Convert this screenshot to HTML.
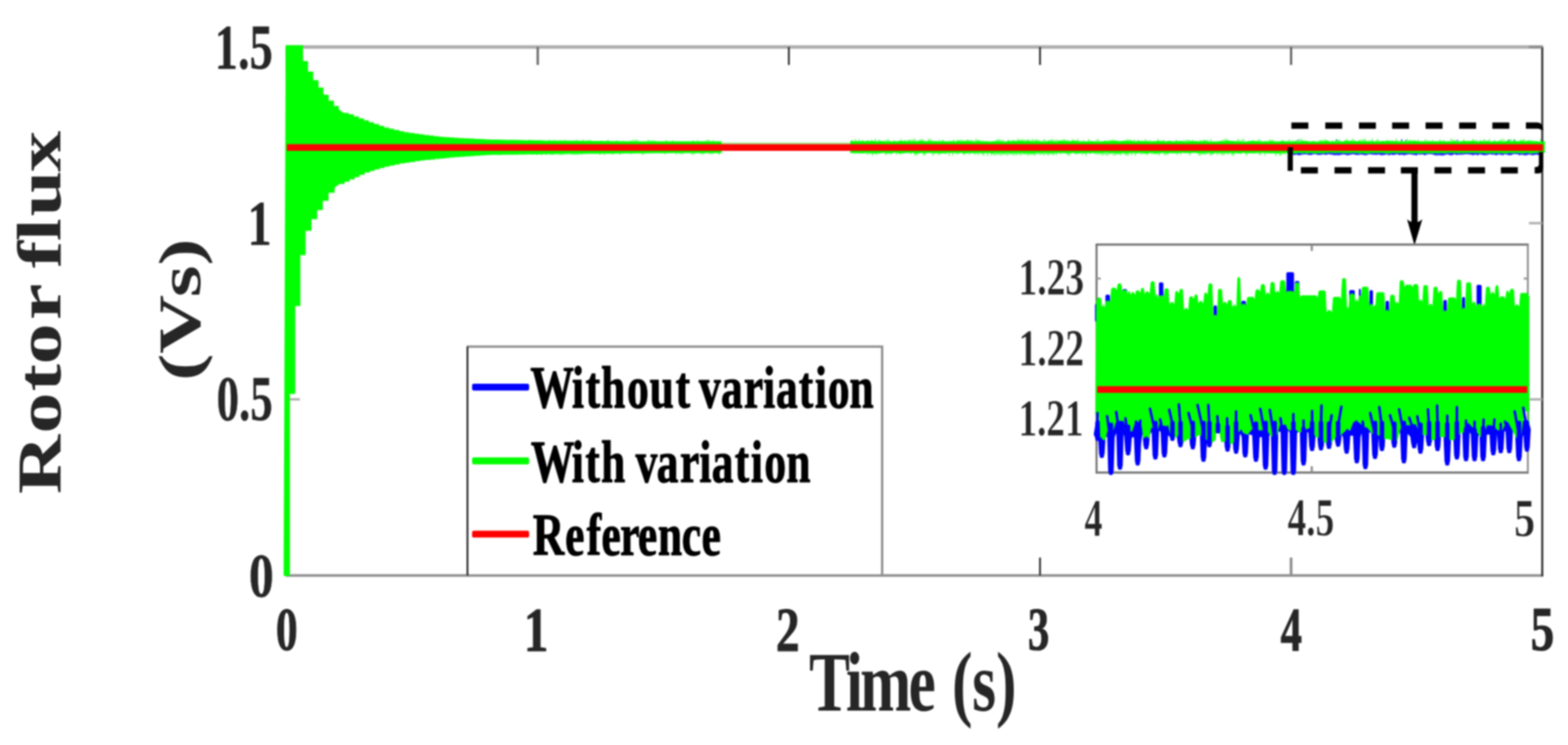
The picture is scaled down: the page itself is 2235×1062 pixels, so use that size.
<!DOCTYPE html>
<html lang="en">
<head>
<meta charset="utf-8">
<title>Rotor flux</title>
<style>
html,body{margin:0;padding:0;background:#fff;}
body{width:2235px;height:1062px;overflow:hidden;font-family:"Liberation Serif","DejaVu Serif",serif;}
svg{display:block;filter:blur(0.8px);}
</style>
</head>
<body>
<svg width="2235" height="1062" viewBox="0 0 2235 1062" role="img" aria-label="Rotor flux versus time" font-family="'Liberation Serif', 'DejaVu Serif', serif">
<rect width="2235" height="1062" fill="#fff"/>
<g id="main-axes" fill="none">
<line x1="407.2" y1="67.0" x2="2199.6" y2="67.0" stroke="#adadad" stroke-width="5.2"/>
<line x1="407.2" y1="820.4" x2="2199.6" y2="820.4" stroke="#909090" stroke-width="3.6"/>
<line x1="408.5" y1="67.0" x2="408.5" y2="820.4" stroke="#303030" stroke-width="2.9"/>
<line x1="2198.3" y1="67.0" x2="2198.3" y2="821.4" stroke="#303030" stroke-width="2.9"/>
<line x1="766.5" y1="67.0" x2="766.5" y2="92.6" stroke="#6e6e6e" stroke-width="3.4"/>
<line x1="1124.4" y1="67.0" x2="1124.4" y2="92.6" stroke="#333" stroke-width="2.7"/>
<line x1="1482.4" y1="67.0" x2="1482.4" y2="92.6" stroke="#333" stroke-width="2.7"/>
<line x1="1482.4" y1="820.4" x2="1482.4" y2="794.8" stroke="#333" stroke-width="2.7"/>
<line x1="1840.3" y1="67.0" x2="1840.3" y2="92.6" stroke="#5c5c5c" stroke-width="3.0"/>
<line x1="1840.3" y1="820.4" x2="1840.3" y2="794.8" stroke="#8c8c8c" stroke-width="3.8"/>
<line x1="408.5" y1="569.3" x2="427.5" y2="569.3" stroke="#b0b0b0" stroke-width="3.4"/>
<line x1="2198.3" y1="569.3" x2="2179.3" y2="569.3" stroke="#b0b0b0" stroke-width="3.4"/>
<line x1="408.5" y1="318.1" x2="427.5" y2="318.1" stroke="#b0b0b0" stroke-width="3.4"/>
<line x1="2198.3" y1="318.1" x2="2179.3" y2="318.1" stroke="#b0b0b0" stroke-width="3.4"/>
<line x1="2198.3" y1="67.0" x2="2179.3" y2="67.0" stroke="#8a8a8a" stroke-width="3.4"/>
</g>
<g id="main-data">
<polygon points="407.2,64.6 432.0,64.6 432.0,87.0 439.0,87.0 439.0,102.1 446.5,102.1 446.5,114.3 454.0,114.3 454.0,124.7 461.0,124.7 461.0,135.0 468.5,135.0 468.5,143.5 476.0,143.5 476.0,151.0 483.0,151.0 483.0,156.0 490.0,161.0 497.2,161.0 497.2,163.0 504.3,163.0 504.3,165.9 511.5,165.9 511.5,168.7 518.6,168.7 518.6,171.6 525.8,171.6 525.8,174.2 533.0,174.2 533.0,176.8 540.1,176.8 540.1,179.3 547.3,179.3 547.3,181.7 554.4,181.7 554.4,183.5 561.6,183.5 561.6,185.3 568.8,185.3 568.8,187.1 575.9,187.1 575.9,188.5 583.1,188.5 583.1,189.5 590.2,189.5 590.2,190.6 597.4,190.6 597.4,191.6 604.6,191.6 604.6,192.5 611.7,192.5 611.7,193.3 618.9,193.3 618.9,194.2 626.0,194.2 626.0,194.9 633.2,194.9 633.2,195.4 640.4,195.4 640.4,196.0 647.5,196.0 647.5,196.6 654.7,196.6 654.7,196.9 661.8,196.9 661.8,197.3 669.0,197.3 669.0,197.6 676.2,197.6 676.2,198.0 683.3,198.0 683.3,198.3 690.5,198.3 690.5,198.7 697.6,198.7 697.6,199.0 704.8,199.0 704.8,199.1 712.0,199.1 712.0,199.3 719.1,199.3 719.1,199.4 726.3,199.4 726.3,199.5 733.4,199.5 733.4,199.6 740.6,199.6 740.6,199.8 747.8,199.8 747.8,199.9 754.9,199.9 754.9,200.0 762.1,200.0 762.1,200.1 769.2,200.1 769.2,200.3 776.4,200.3 776.4,200.4 783.6,200.4 783.6,200.4 790.7,200.4 790.7,200.5 797.9,200.5 797.9,200.5 800.0,200.5 900.0,201.6 1028.7,201.6 1028.7,218.3 959.0,218.3 800.0,219.6 799.0,219.6 799.0,219.6 791.9,219.6 791.9,219.7 784.7,219.7 784.7,219.7 777.6,219.7 777.6,219.8 770.4,219.8 770.4,219.9 763.2,219.9 763.2,220.0 756.1,220.0 756.1,220.1 748.9,220.1 748.9,220.2 741.8,220.2 741.8,220.3 734.6,220.3 734.6,220.4 727.4,220.4 727.4,220.5 720.3,220.5 720.3,220.6 713.1,220.6 713.1,220.7 706.0,220.7 706.0,220.8 698.8,220.8 698.8,221.1 691.6,221.1 691.6,221.6 684.5,221.6 684.5,222.0 677.3,222.0 677.3,222.5 670.2,222.5 670.2,222.9 663.0,222.9 663.0,223.4 655.8,223.4 655.8,223.9 648.7,223.9 648.7,224.5 641.5,224.5 641.5,225.2 634.4,225.2 634.4,225.9 627.2,225.9 627.2,226.6 620.0,226.6 620.0,227.4 612.9,227.4 612.9,228.1 605.7,228.1 605.7,228.8 598.6,228.8 598.6,229.8 591.4,229.8 591.4,230.9 584.2,230.9 584.2,231.9 577.1,231.9 577.1,233.1 569.9,233.1 569.9,234.5 562.8,234.5 562.8,236.0 555.6,236.0 555.6,237.4 548.4,237.4 548.4,239.4 541.3,239.4 541.3,241.5 534.1,241.5 534.1,243.7 527.0,243.7 527.0,246.1 519.8,246.1 519.8,249.3 512.6,249.3 512.6,252.5 505.5,252.5 505.5,255.7 498.3,255.7 498.3,259.0 491.2,259.0 491.2,262.3 484.0,262.3 477.0,267.5 477.0,274.7 468.4,274.7 468.4,286.3 460.2,286.3 460.2,299.5 452.2,299.5 452.2,312.6 444.0,312.6 444.0,329.1 435.6,329.1 435.6,363.7 428.2,363.7 428.2,436.3 420.9,436.3 420.9,561.6 413.2,561.6 413.2,820.9 404.3,820.9" fill="#00ff00"/>
<rect x="1028.7" y="203.2" width="183.5" height="3" fill="#7fdf5f" opacity="0.7"/>
<polygon points="1842,214.0 1842,219.8 1845,221.3 1848,220.2 1851,221.5 1854,221.0 1857,220.3 1860,220.0 1863,220.2 1866,221.0 1869,221.1 1872,219.9 1875,219.8 1878,220.7 1881,220.9 1884,220.5 1887,220.1 1890,220.9 1893,219.7 1896,220.3 1899,220.6 1902,221.6 1905,221.0 1908,221.5 1911,220.7 1914,220.2 1917,220.2 1920,221.6 1923,221.1 1926,220.3 1929,219.7 1932,220.7 1935,221.0 1938,220.5 1941,220.2 1944,221.0 1947,221.6 1950,220.2 1953,219.8 1956,220.4 1959,220.5 1962,221.1 1965,220.1 1968,221.3 1971,221.2 1974,220.7 1977,220.1 1980,221.6 1983,220.3 1986,221.3 1989,220.2 1992,220.1 1995,221.2 1998,220.3 2001,221.6 2004,220.7 2007,220.1 2010,220.1 2013,220.5 2016,221.0 2019,221.6 2022,220.0 2025,220.5 2028,220.1 2031,221.6 2034,220.0 2037,219.8 2040,219.8 2043,220.5 2046,221.5 2049,221.5 2052,221.2 2055,221.7 2058,221.6 2061,220.4 2064,220.1 2067,221.6 2070,221.2 2073,219.8 2076,221.0 2079,220.5 2082,220.4 2085,220.4 2088,220.0 2091,219.7 2094,220.3 2097,220.4 2100,221.6 2103,219.9 2106,221.6 2109,220.1 2112,220.4 2115,221.3 2118,221.3 2121,220.6 2124,219.8 2127,220.6 2130,220.4 2133,221.5 2136,220.1 2139,220.4 2142,221.5 2145,219.8 2148,220.5 2151,221.3 2154,221.2 2157,219.8 2160,219.8 2163,219.8 2166,221.5 2169,220.2 2172,221.2 2175,221.5 2178,220.4 2181,220.2 2184,221.6 2187,220.9 2190,220.2 2193,221.1 2196,220.3 2200,214.0" fill="#0000ff" opacity="0.85"/>
<path d="M1214.0 201.5V199.6M1219.2 201.5V198.4M1224.4 201.5V198.4M1229.6 201.5V199.7M1236.1 218V220.4M1237.4 201.5V199.7M1238.7 218V220.1M1241.3 218V219.8M1242.6 201.5V199.1M1243.9 218V222.1M1247.8 201.5V198.0M1249.1 218V220.9M1253.0 201.5V198.8M1260.8 201.5V199.8M1262.1 218V221.1M1263.4 201.5V199.6M1264.7 218V220.2M1266.0 201.5V198.2M1269.9 218V220.6M1273.8 201.5V199.7M1277.7 218V220.8M1282.9 218V220.4M1284.2 201.5V198.3M1289.4 201.5V199.9M1292.0 201.5V199.7M1294.6 201.5V199.2M1297.2 201.5V198.7M1298.5 218V220.1M1299.8 201.5V199.2M1302.4 201.5V197.8M1303.7 218V221.4M1305.0 201.5V198.5M1306.3 218V221.7M1308.9 218V219.9M1310.2 201.5V199.1M1312.8 201.5V198.2M1315.4 201.5V198.5M1316.7 218V222.1M1319.3 218V220.7M1323.2 201.5V198.3M1325.8 201.5V197.8M1328.4 201.5V199.8M1329.7 218V221.9M1332.3 218V219.6M1337.5 218V221.2M1338.8 201.5V199.0M1340.1 218V220.3M1344.0 201.5V199.0M1347.9 218V219.9M1353.1 218V222.0M1354.4 201.5V200.0M1358.3 218V221.6M1359.6 201.5V198.8M1363.5 218V220.2M1364.8 201.5V199.0M1366.1 218V219.9M1367.4 201.5V199.5M1370.0 201.5V199.1M1372.6 201.5V199.8M1373.9 218V221.2M1377.8 201.5V198.8M1380.4 201.5V199.4M1381.7 218V220.7M1383.0 201.5V199.3M1385.6 201.5V199.6M1389.5 218V220.8M1390.8 201.5V198.1M1392.1 218V219.8M1393.4 201.5V199.0M1394.7 218V221.3M1396.0 201.5V199.6M1399.9 218V220.9M1401.2 201.5V200.1M1402.5 218V221.8M1407.7 218V222.2M1412.9 218V221.6M1415.5 218V220.5M1418.1 218V221.9M1419.4 201.5V199.8M1420.7 218V220.9M1422.0 201.5V198.4M1423.3 218V220.4M1424.6 201.5V198.2M1425.9 218V222.0M1427.2 201.5V199.9M1428.5 218V221.6M1429.8 201.5V199.1M1431.1 218V220.5M1433.7 218V221.1M1436.3 218V222.2M1437.6 201.5V198.7M1438.9 218V220.3M1441.5 218V220.5M1442.8 201.5V198.9M1444.1 218V221.5M1445.4 201.5V199.8M1446.7 218V221.3M1449.3 218V221.3M1450.6 201.5V197.8M1451.9 218V220.0M1453.2 201.5V198.8M1454.5 218V221.9M1455.8 201.5V198.3M1457.1 218V219.7M1458.4 201.5V198.7M1459.7 218V220.5M1461.0 201.5V199.2M1462.3 218V220.1M1463.6 201.5V198.9M1464.9 218V222.0M1466.2 201.5V198.2M1467.5 218V221.3M1470.1 218V220.6M1471.4 201.5V197.8M1472.7 218V221.1M1474.0 201.5V199.3M1475.3 218V222.0M1476.6 201.5V198.4M1479.2 201.5V199.1M1480.5 218V220.2M1481.8 201.5V199.7M1483.1 218V221.0M1485.7 218V220.1M1487.0 201.5V199.0M1488.3 218V221.7M1489.6 201.5V198.5M1490.9 218V219.7M1493.5 218V221.5M1494.8 201.5V199.8M1496.1 218V220.8M1497.4 201.5V198.9M1498.7 218V219.9M1500.0 201.5V197.9M1501.3 218V221.5M1502.6 201.5V199.8M1503.9 218V220.3M1505.2 201.5V198.8M1506.5 218V221.0M1507.8 201.5V199.3M1510.4 201.5V199.9M1511.7 218V220.3M1513.0 201.5V199.6M1515.6 201.5V198.6M1518.2 201.5V198.4M1520.8 201.5V199.5M1522.1 218V222.1M1523.4 201.5V199.8M1524.7 218V221.8M1528.6 201.5V198.3M1531.2 201.5V200.0M1532.5 218V219.7M1533.8 201.5V200.0M1535.1 218V220.0M1536.4 201.5V197.9M1542.9 218V221.1M1544.2 201.5V199.8M1548.1 218V221.9M1552.0 201.5V198.3M1553.3 218V219.7M1561.1 218V219.9M1562.4 201.5V199.6M1563.7 218V220.4M1565.0 201.5V197.9M1566.3 218V220.3M1568.9 218V220.4M1571.5 218V221.8M1574.1 218V220.7M1575.4 201.5V199.7M1576.7 218V221.4M1579.3 218V221.8M1580.6 201.5V199.8M1581.9 218V219.6M1583.2 201.5V199.6M1585.8 201.5V199.0M1587.1 218V221.7M1588.4 201.5V199.0M1589.7 218V221.8M1591.0 201.5V200.1M1592.3 218V220.2M1594.9 218V219.9M1597.5 218V221.6M1602.7 218V220.6M1604.0 201.5V199.9M1605.3 218V221.9M1606.6 201.5V198.3M1607.9 218V221.9M1609.2 201.5V198.7M1611.8 201.5V198.9M1613.1 218V221.6M1617.0 201.5V198.6M1618.3 218V221.8M1622.2 201.5V198.9M1626.1 218V220.8M1628.7 218V220.1M1632.6 201.5V198.2M1633.9 218V220.4M1636.5 218V220.5M1637.8 201.5V200.1M1640.4 201.5V200.1M1641.7 218V220.6M1646.9 218V220.1M1649.5 218V220.1M1650.8 201.5V197.9M1652.1 218V221.7M1658.6 201.5V199.2M1659.9 218V221.5M1662.5 218V221.1M1665.1 218V220.2M1676.8 201.5V199.3M1678.1 218V220.7M1683.3 218V220.7M1687.2 201.5V199.4M1689.8 201.5V199.4M1692.4 201.5V199.0M1695.0 201.5V199.1M1696.3 218V221.6M1700.2 201.5V199.2M1709.3 218V222.1M1710.6 201.5V199.4M1711.9 218V221.6M1713.2 201.5V200.2M1714.5 218V219.7M1715.8 201.5V198.8M1717.1 218V220.7M1718.4 201.5V199.5M1719.7 218V220.3M1721.0 201.5V199.6M1724.9 218V221.7M1726.2 201.5V198.3M1727.5 218V221.6M1735.3 218V221.3M1740.5 218V221.0M1741.8 201.5V199.8M1743.1 218V221.8M1744.4 201.5V198.7M1745.7 218V220.7M1747.0 201.5V197.8M1749.6 201.5V198.4M1750.9 218V220.8M1756.1 218V222.0M1758.7 218V221.8M1762.6 201.5V199.8M1765.2 201.5V197.8M1769.1 218V219.9M1770.4 201.5V198.4M1773.0 201.5V198.2M1776.9 218V221.9M1786.0 201.5V199.5M1793.8 201.5V198.4M1795.1 218V220.9M1796.4 201.5V198.9M1797.7 218V220.9M1802.9 218V221.8M1809.4 201.5V198.8M1812.0 201.5V199.3M1814.6 201.5V199.3M1818.5 218V222.2M1823.7 218V221.5M1826.3 218V221.8M1827.6 201.5V198.9M1831.5 218V220.7M1836.7 218V221.8M1838.0 201.5V198.5M1839.3 218V222.1M1842.0 201.5V199.3M1847.2 201.5V199.5M1852.4 201.5V197.9M1855.0 201.5V197.8M1857.6 201.5V200.0M1881.0 201.5V199.4M1883.6 201.5V199.4M1886.2 201.5V199.6M1888.8 201.5V198.2M1891.4 201.5V199.7M1899.2 201.5V199.8M1904.4 201.5V198.4M1907.0 201.5V198.8M1909.6 201.5V198.8M1917.4 201.5V199.2M1920.0 201.5V198.1M1925.2 201.5V200.0M1927.8 201.5V197.8M1930.4 201.5V199.2M1938.2 201.5V198.8M1940.8 201.5V199.3M1943.4 201.5V198.2M1946.0 201.5V197.8M1951.2 201.5V200.1M1953.8 201.5V199.9M1956.4 201.5V197.8M1961.6 201.5V199.6M1964.2 201.5V197.9M1977.2 201.5V199.3M1982.4 201.5V200.0M1985.0 201.5V200.1M1990.2 201.5V197.8M1998.0 201.5V198.5M2003.2 201.5V199.9M2005.8 201.5V197.9M2008.4 201.5V199.2M2011.0 201.5V199.4M2013.6 201.5V199.7M2016.2 201.5V199.3M2021.4 201.5V198.7M2031.8 201.5V198.5M2034.4 201.5V200.1M2042.2 201.5V199.3M2052.6 201.5V198.8M2057.8 201.5V199.4M2068.2 201.5V197.8M2070.8 201.5V198.8M2073.4 201.5V199.8M2078.6 201.5V199.8M2086.4 201.5V198.5M2099.4 201.5V198.0M2102.0 201.5V199.7M2104.6 201.5V199.6M2109.8 201.5V199.3M2115.0 201.5V198.3M2117.6 201.5V199.6M2122.8 201.5V198.0M2130.6 201.5V199.2M2138.4 201.5V198.9M2141.0 201.5V198.3M2143.6 201.5V198.2M2148.8 201.5V199.2M2151.4 201.5V199.0M2154.0 201.5V197.9M2159.2 201.5V198.1M2167.0 201.5V199.2M2169.6 201.5V199.0M2172.2 201.5V197.9M2180.0 201.5V199.2M2182.6 201.5V199.7M2185.2 201.5V200.1M2195.6 201.5V197.9M700.0 202V199.1M701.5 218V219.5M711.1 218V220.6M714.3 218V221.3M716.0 202V199.8M725.6 202V200.5M728.8 202V198.9M730.3 218V220.1M736.7 218V221.0M743.1 218V219.7M749.5 218V220.6M752.7 218V220.0M754.4 202V199.0M757.6 202V199.2M759.1 218V220.8M760.8 202V200.1M762.3 218V219.5M765.5 218V221.3M770.4 202V199.6M771.9 218V221.3M778.3 218V221.0M783.2 202V199.2M784.7 218V220.8M787.9 218V221.1M789.6 202V199.5M791.1 218V219.9M794.3 218V219.7M797.5 218V221.2M799.2 202V200.6M800.7 218V221.2M803.9 218V220.4M805.6 202V199.3M807.1 218V220.1M813.5 218V220.0M816.7 218V220.9M818.4 202V200.6M819.9 218V221.0M821.6 202V199.1M823.1 218V221.1M826.3 218V220.3M829.5 218V220.5M831.2 202V199.1M835.9 218V219.6M837.6 202V199.9M840.8 202V199.2M848.7 218V219.5M855.1 218V221.0M856.8 202V200.3M861.5 218V221.2M866.4 202V199.1M871.1 218V220.1M874.3 218V220.4M879.2 202V200.1M883.9 218V220.8M888.8 202V200.4M898.4 202V200.5M899.9 218V219.8M901.6 202V199.3M904.8 202V199.0M908.0 202V198.8M915.9 218V221.1M919.1 218V219.6M924.0 202V199.0M927.2 202V199.9M930.4 202V199.8M933.6 202V200.3M947.9 218V219.9M949.6 202V199.6M959.2 202V199.7M963.9 218V220.2M970.3 218V220.3M973.5 218V219.7M986.3 218V220.7M988.0 202V200.0M989.5 218V220.5M994.4 202V199.7M999.1 218V220.0M1002.3 218V220.6M1007.2 202V199.6M1010.4 202V199.0M1011.9 218V220.0M1015.1 218V219.9M1016.8 202V199.8M1024.7 218V220.8" fill="none" stroke="#00ff00" stroke-width="1.5" opacity="0.75"/>
<path d="M1850 201V199.2M1905 201V199M1998 201V198.6M2004 201V199.4M2077 201V199.3M2151 201V199M2158 201V199.5" fill="none" stroke="#0000ff" stroke-width="1.6" opacity="0.7"/>
<polygon points="1212,201.2 1215,201.0 1218,201.5 1221,200.9 1224,201.4 1227,201.2 1230,200.9 1233,201.4 1236,200.8 1239,201.3 1242,200.9 1245,200.9 1248,201.3 1251,201.7 1254,200.9 1257,201.0 1260,201.5 1263,201.8 1266,201.4 1269,201.2 1272,201.9 1275,200.9 1278,201.7 1281,201.1 1284,201.0 1287,200.9 1290,201.1 1293,201.7 1296,201.0 1299,201.4 1302,201.5 1305,201.2 1308,201.4 1311,200.9 1314,200.9 1317,201.0 1320,201.5 1323,201.3 1326,201.1 1329,201.4 1332,201.3 1335,201.1 1338,201.7 1341,201.6 1344,201.1 1347,201.4 1350,201.4 1353,201.8 1356,201.6 1359,201.1 1362,201.9 1365,200.9 1368,201.3 1371,201.6 1374,201.0 1377,201.3 1380,200.8 1383,201.5 1386,201.6 1389,201.4 1392,201.8 1395,201.1 1398,201.6 1401,201.5 1404,201.4 1407,201.3 1410,201.7 1413,201.8 1416,201.3 1419,201.5 1422,200.9 1425,201.6 1428,201.5 1431,201.9 1434,201.7 1437,201.1 1440,201.2 1443,201.5 1446,200.8 1449,201.3 1452,201.0 1455,200.9 1458,200.9 1461,201.6 1464,200.9 1467,201.1 1470,201.2 1473,201.8 1476,200.9 1479,201.3 1482,201.4 1485,201.8 1488,201.7 1491,201.8 1494,201.1 1497,201.3 1500,201.2 1503,201.8 1506,201.9 1509,201.0 1512,201.0 1515,201.1 1518,201.1 1521,201.3 1524,201.4 1527,201.1 1530,200.8 1533,201.3 1536,201.2 1539,201.4 1542,201.8 1545,201.6 1548,201.4 1551,201.5 1554,201.5 1557,200.9 1560,201.8 1563,201.7 1566,201.8 1569,201.7 1572,201.2 1575,201.2 1578,200.9 1581,201.5 1584,200.9 1587,200.9 1590,201.0 1593,201.0 1596,201.2 1599,200.9 1602,200.8 1605,201.0 1608,200.9 1611,201.2 1614,200.8 1617,201.8 1620,201.5 1623,201.0 1626,201.1 1629,201.2 1632,201.2 1635,200.9 1638,201.7 1641,201.9 1644,201.3 1647,201.3 1650,200.9 1653,200.9 1656,201.2 1659,201.1 1662,201.7 1665,201.0 1668,200.8 1671,201.8 1674,201.4 1677,201.0 1680,201.4 1683,200.8 1686,201.4 1689,201.9 1692,201.7 1695,201.6 1698,201.1 1701,201.2 1704,201.0 1707,201.6 1710,201.4 1713,201.7 1716,201.2 1719,201.0 1722,201.7 1725,201.9 1728,201.7 1731,201.7 1734,201.7 1737,201.6 1740,201.0 1743,201.4 1746,201.2 1749,200.8 1752,200.8 1755,201.1 1758,201.1 1761,201.6 1764,201.9 1767,201.3 1770,201.8 1773,201.9 1776,201.9 1779,201.2 1782,201.0 1785,201.0 1788,201.0 1791,201.0 1794,201.5 1797,201.8 1800,201.7 1803,201.3 1806,201.5 1809,201.7 1812,200.9 1815,201.5 1818,201.8 1821,201.7 1824,201.6 1827,201.3 1830,201.0 1833,201.7 1836,201.2 1839,201.7 1842,201.9 1845,201.2 1848,201.2 1851,201.8 1854,201.6 1857,201.0 1860,200.9 1863,201.0 1866,201.8 1869,201.7 1872,201.0 1875,201.7 1878,201.9 1881,201.5 1884,201.2 1887,201.4 1890,200.9 1893,200.8 1896,201.9 1899,201.5 1902,201.4 1905,201.8 1908,201.3 1911,201.8 1914,201.7 1917,201.0 1920,201.1 1923,201.1 1926,201.1 1929,201.4 1932,201.1 1935,201.3 1938,200.9 1941,201.8 1944,201.2 1947,201.3 1950,201.4 1953,201.8 1956,201.3 1959,201.8 1962,201.4 1965,201.4 1968,201.4 1971,200.8 1974,201.3 1977,201.0 1980,200.8 1983,201.7 1986,201.0 1989,201.3 1992,201.6 1995,201.4 1998,201.2 2001,201.4 2004,201.4 2007,201.7 2010,200.9 2013,201.4 2016,201.1 2019,201.1 2022,201.6 2025,201.4 2028,201.4 2031,201.6 2034,201.8 2037,201.3 2040,201.5 2043,201.4 2046,201.4 2049,201.6 2052,201.3 2055,201.4 2058,201.3 2061,201.8 2064,201.6 2067,201.8 2070,201.8 2073,201.1 2076,201.4 2079,201.8 2082,201.7 2085,201.0 2088,200.9 2091,201.3 2094,200.9 2097,201.1 2100,200.9 2103,201.5 2106,201.7 2109,201.8 2112,201.0 2115,201.6 2118,201.5 2121,201.0 2124,201.8 2127,201.9 2130,201.0 2133,201.8 2136,201.2 2139,201.3 2142,201.9 2145,201.7 2148,201.0 2151,201.3 2154,201.4 2157,201.2 2160,201.0 2163,201.2 2166,201.6 2169,200.8 2172,201.4 2175,201.3 2178,200.8 2181,201.2 2184,201.5 2187,201.4 2190,200.9 2193,201.9 2196,201.7 2199,201.9 2202,200.9 2202,201.0 2202,218.8 2202,218.1 2199,217.8 2196,218.7 2193,218.1 2190,217.9 2187,218.3 2184,218.8 2181,218.7 2178,218.1 2175,218.0 2172,218.8 2169,218.4 2166,218.6 2163,217.9 2160,217.9 2157,218.6 2154,218.3 2151,217.9 2148,218.8 2145,218.5 2142,218.7 2139,217.9 2136,218.7 2133,217.9 2130,218.7 2127,218.3 2124,218.2 2121,218.4 2118,218.8 2115,218.1 2112,217.9 2109,218.4 2106,218.1 2103,217.9 2100,218.0 2097,217.9 2094,218.0 2091,218.1 2088,218.1 2085,218.6 2082,218.1 2079,218.4 2076,218.0 2073,218.2 2070,217.8 2067,218.1 2064,217.8 2061,218.6 2058,218.4 2055,218.0 2052,218.3 2049,218.8 2046,217.9 2043,218.7 2040,218.3 2037,218.3 2034,218.7 2031,218.2 2028,218.4 2025,218.6 2022,218.9 2019,218.2 2016,218.7 2013,218.6 2010,218.5 2007,218.2 2004,218.2 2001,217.9 1998,217.9 1995,217.9 1992,218.6 1989,218.1 1986,218.0 1983,217.9 1980,218.7 1977,218.8 1974,218.5 1971,218.1 1968,218.1 1965,218.1 1962,218.3 1959,218.0 1956,218.3 1953,218.1 1950,218.9 1947,218.9 1944,218.4 1941,218.1 1938,218.9 1935,218.1 1932,218.2 1929,217.8 1926,218.2 1923,218.3 1920,218.4 1917,218.0 1914,218.4 1911,217.8 1908,218.1 1905,217.9 1902,218.2 1899,217.8 1896,217.8 1893,218.1 1890,218.1 1887,218.4 1884,218.4 1881,218.6 1878,218.5 1875,218.6 1872,218.8 1869,218.2 1866,218.2 1863,218.9 1860,218.0 1857,218.6 1854,218.5 1851,217.8 1848,218.7 1845,218.8 1842,218.5 1839,218.6 1836,218.7 1833,218.0 1830,218.4 1827,218.4 1824,218.7 1821,218.7 1818,218.7 1815,218.4 1812,218.8 1809,218.6 1806,218.6 1803,218.1 1800,217.8 1797,217.9 1794,218.2 1791,217.9 1788,218.7 1785,218.4 1782,218.5 1779,218.5 1776,218.5 1773,218.3 1770,217.8 1767,218.7 1764,218.6 1761,218.4 1758,218.4 1755,218.5 1752,217.9 1749,218.6 1746,218.1 1743,217.9 1740,218.1 1737,218.6 1734,218.0 1731,218.6 1728,218.9 1725,218.3 1722,218.2 1719,218.3 1716,218.6 1713,218.6 1710,218.5 1707,218.5 1704,217.9 1701,218.0 1698,218.1 1695,218.6 1692,218.1 1689,218.4 1686,217.8 1683,217.9 1680,218.1 1677,218.5 1674,218.6 1671,218.5 1668,218.1 1665,218.4 1662,218.3 1659,218.3 1656,217.9 1653,218.8 1650,218.0 1647,218.9 1644,218.8 1641,217.8 1638,218.3 1635,218.7 1632,218.9 1629,218.3 1626,218.1 1623,218.0 1620,218.8 1617,218.0 1614,218.4 1611,218.0 1608,218.4 1605,218.8 1602,217.9 1599,218.7 1596,218.4 1593,218.8 1590,218.6 1587,218.1 1584,218.8 1581,218.3 1578,217.8 1575,217.8 1572,218.3 1569,218.3 1566,218.1 1563,218.0 1560,218.2 1557,218.1 1554,218.7 1551,217.8 1548,218.6 1545,218.7 1542,217.9 1539,218.8 1536,218.6 1533,218.8 1530,218.1 1527,218.2 1524,218.2 1521,218.9 1518,218.4 1515,218.2 1512,218.3 1509,218.1 1506,217.9 1503,217.9 1500,218.7 1497,218.1 1494,218.8 1491,218.1 1488,218.1 1485,218.4 1482,218.0 1479,218.2 1476,218.9 1473,218.8 1470,218.7 1467,218.5 1464,218.8 1461,218.8 1458,218.4 1455,218.6 1452,217.9 1449,218.6 1446,218.3 1443,218.6 1440,218.5 1437,218.1 1434,217.9 1431,218.8 1428,217.9 1425,218.3 1422,218.2 1419,218.1 1416,218.6 1413,218.9 1410,218.1 1407,218.5 1404,218.1 1401,218.4 1398,218.2 1395,218.0 1392,218.0 1389,218.0 1386,218.8 1383,218.3 1380,218.0 1377,218.8 1374,218.9 1371,218.3 1368,218.0 1365,218.0 1362,217.9 1359,218.2 1356,217.9 1353,218.1 1350,218.1 1347,218.4 1344,218.8 1341,218.6 1338,218.3 1335,218.3 1332,218.4 1329,218.2 1326,218.2 1323,217.9 1320,218.1 1317,218.9 1314,217.9 1311,218.4 1308,218.5 1305,218.7 1302,218.0 1299,218.1 1296,218.1 1293,218.2 1290,218.3 1287,218.8 1284,218.7 1281,218.8 1278,217.8 1275,217.8 1272,218.6 1269,218.8 1266,218.3 1263,218.4 1260,217.8 1257,218.2 1254,218.8 1251,218.7 1248,218.7 1245,218.9 1242,218.1 1239,217.9 1236,218.0 1233,218.4 1230,218.6 1227,218.8 1224,218.6 1221,218.5 1218,218.6 1215,218.3 1212,218.4" fill="#00ff00"/>
<line x1="408.8" y1="210.2" x2="2199.5" y2="210.2" stroke="#ff0000" stroke-width="9.6"/>
</g>
<g id="zoom-box" fill="#000">
<rect x="1840.7" y="174.6" width="24.2" height="9.0"/>
<rect x="1889.0" y="174.6" width="24.2" height="9.0"/>
<rect x="1937.0" y="174.6" width="24.2" height="9.0"/>
<rect x="1984.3" y="174.6" width="24.2" height="9.0"/>
<rect x="2032.0" y="174.6" width="24.2" height="9.0"/>
<rect x="2079.8" y="174.6" width="24.2" height="9.0"/>
<rect x="2127.2" y="174.6" width="24.2" height="9.0"/>
<path d="M2175 174.6 H2191 Q2199.5 174.6 2199.5 186 L2193 183.6 H2175 Z"/>
<rect x="1854.3" y="238.3" width="24.2" height="9.0"/>
<rect x="1902.2" y="238.3" width="24.2" height="9.0"/>
<rect x="1950.0" y="238.3" width="24.2" height="9.0"/>
<rect x="1996.8" y="238.3" width="24.2" height="9.0"/>
<rect x="2044.7" y="238.3" width="24.2" height="9.0"/>
<rect x="2092.5" y="238.3" width="24.2" height="9.0"/>
<rect x="2139.3" y="238.3" width="24.2" height="9.0"/>
<rect x="1835.4" y="210" width="7.4" height="33.6"/>
<path d="M2187.5 247.3 H2193 Q2199.5 247.3 2199.5 238 V216.5 H2193.5 V234 Q2193.5 238.3 2187.5 238.3 Z"/>
<rect x="2011.8" y="243" width="8.8" height="80"/>
<path d="M2016.2 349.8 L2005.6 312.5 Q2016.2 322 2027.4 312.5 Z"/>
</g>
<g id="legend">
<rect x="666.2" y="494.2" width="591.4" height="324.0" fill="#fff"/>
<line x1="665" y1="494.2" x2="1259" y2="494.2" stroke="#8c8c8c" stroke-width="3.2"/>
<line x1="666.3" y1="494.2" x2="666.3" y2="820.4" stroke="#2c2c2c" stroke-width="2.7"/>
<line x1="1257.4" y1="494.2" x2="1257.4" y2="820.4" stroke="#8c8c8c" stroke-width="3.2"/>
<rect x="672.9" y="546.9" width="81.3" height="9.8" rx="2.6" fill="#0000ff"/>
<rect x="672.9" y="652.1" width="81.3" height="9.8" rx="2.6" fill="#00ff00"/>
<rect x="672.9" y="756.5" width="81.3" height="9.8" rx="2.6" fill="#ff0000"/>
<text transform="translate(0,581.10) scale(0.7380,1)" x="1024.5 1104.8 1131.1 1161.0 1211.2 1254.8 1304.8 1346.8 1350.1 1392.6 1436.7 1473.9 1498.6 1542.6 1573.9 1598.9 1640.5" y="0" font-size="84.00" font-weight="bold" fill="#000" stroke="#000" stroke-width="1.4" stroke-linejoin="round">Without variation</text>
<text transform="translate(0,686.70) scale(0.7380,1)" x="1025.3 1104.4 1130.6 1161.0 1203.0 1227.5 1268.3 1313.4 1350.7 1374.8 1419.0 1450.2 1476.3 1518.8" y="0" font-size="84.00" font-weight="bold" fill="#000" stroke="#000" stroke-width="1.4" stroke-linejoin="round">With variation</text>
<text transform="translate(0,791.20) scale(0.7380,1)" x="1029.0 1091.5 1133.0 1161.7 1197.9 1231.9 1270.7 1316.7 1355.0" y="0" font-size="84.00" font-weight="bold" fill="#000" stroke="#000" stroke-width="1.4" stroke-linejoin="round">Reference</text>
</g>
<g id="inset">
<rect x="1563.0" y="348.7" width="614.8000000000002" height="324.90000000000003" fill="#fff"/>
<line x1="1561.7" y1="348.7" x2="2179.1000000000004" y2="348.7" stroke="#7a7a7a" stroke-width="3.2"/>
<line x1="1561.7" y1="673.6" x2="2179.1000000000004" y2="673.6" stroke="#7a7a7a" stroke-width="3.2"/>
<line x1="1563.0" y1="348.7" x2="1563.0" y2="673.6" stroke="#666" stroke-width="2.6"/>
<line x1="2177.8" y1="348.7" x2="2177.8" y2="673.6" stroke="#8a8a8a" stroke-width="2.6"/>
<line x1="1869.8" y1="348.7" x2="1869.8" y2="357.7" stroke="#8a8a8a" stroke-width="3"/>
<line x1="1869.8" y1="673.6" x2="1869.8" y2="664.6" stroke="#8a8a8a" stroke-width="3"/>
<line x1="1563.0" y1="397.1" x2="1569.0" y2="397.1" stroke="#9a9a9a" stroke-width="3"/>
<line x1="2177.8" y1="397.1" x2="2171.8" y2="397.1" stroke="#9a9a9a" stroke-width="3"/>
<rect x="1575.7" y="420.0" width="6.4" height="22.8" rx="2.2" fill="#0000ff"/>
<rect x="1600.1" y="412.1" width="6.4" height="9.4" rx="2.2" fill="#0000ff"/>
<rect x="1651.9" y="402.5" width="6.4" height="28.9" rx="2.2" fill="#0000ff"/>
<rect x="1729.7" y="435.2" width="4.9" height="21.3" rx="2.2" fill="#0000ff"/>
<rect x="1769.4" y="428.8" width="6.4" height="13.9" rx="2.2" fill="#0000ff"/>
<rect x="1833.5" y="388.0" width="11.0" height="47.2" rx="2.2" fill="#0000ff"/>
<rect x="1845.7" y="400.5" width="6.4" height="10.3" rx="2.2" fill="#0000ff"/>
<rect x="1923.1" y="413.6" width="8.0" height="13.9" rx="2.2" fill="#0000ff"/>
<rect x="1936.9" y="411.6" width="2.6" height="23.5" rx="2.2" fill="#0000ff"/>
<rect x="1952.1" y="413.6" width="4.9" height="27.7" rx="2.2" fill="#0000ff"/>
<rect x="1975.0" y="428.8" width="4.9" height="20.8" rx="2.2" fill="#0000ff"/>
<rect x="2057.4" y="427.6" width="4.9" height="22.8" rx="2.2" fill="#0000ff"/>
<rect x="2084.1" y="423.3" width="4.1" height="23.2" rx="2.2" fill="#0000ff"/>
<rect x="2104.7" y="406.0" width="7.2" height="35.3" rx="2.2" fill="#0000ff"/>
<rect x="1560.8" y="433" width="4.6" height="26" rx="2" fill="#0000ff"/>
<polygon points="1563.0,600.0 1559.8,619.2 1561.3,622.9 1564.4,625.4 1567.5,622.9 1569.0,620.7 1565.9,621.0 1567.4,647.3 1570.5,649.8 1573.6,647.3 1575.1,623.6 1578.9,620.4 1580.4,671.6 1583.5,674.1 1586.6,671.6 1588.1,622.9 1591.8,613.3 1593.3,664.1 1596.4,666.6 1599.5,664.1 1601.0,613.1 1603.3,622.4 1604.8,643.5 1607.9,646.0 1611.0,643.5 1612.5,623.3 1617.0,622.0 1618.5,658.0 1621.6,660.5 1624.7,658.0 1626.2,619.7 1618.5,617.7 1620.0,629.0 1623.1,631.5 1626.2,629.0 1627.7,616.2 1629.2,618.4 1630.7,635.1 1633.8,637.6 1636.9,635.1 1638.4,618.9 1642.2,613.1 1643.7,649.6 1646.8,652.1 1649.9,649.6 1651.4,611.4 1655.1,615.8 1656.6,646.6 1659.7,649.1 1662.8,646.6 1664.3,618.3 1666.6,620.7 1668.1,622.9 1671.2,625.4 1674.3,622.9 1675.8,618.6 1678.0,621.0 1679.5,632.1 1682.6,634.6 1685.7,632.1 1687.2,618.8 1695.6,619.2 1697.1,635.1 1700.2,637.6 1703.3,635.1 1704.8,616.9 1710.8,613.0 1712.3,652.7 1715.4,655.2 1718.5,652.7 1720.0,615.2 1719.2,615.1 1720.7,632.1 1723.8,634.6 1726.9,632.1 1728.4,613.4 1731.4,622.8 1732.9,612.2 1736.0,614.7 1739.1,612.2 1740.6,625.1 1745.1,615.9 1746.6,638.2 1749.7,640.7 1752.8,638.2 1754.3,618.7 1757.3,618.4 1758.8,641.2 1761.9,643.7 1765.0,641.2 1766.5,619.5 1770.3,615.0 1771.8,646.6 1774.9,649.1 1778.0,646.6 1779.5,617.7 1785.6,619.9 1787.1,652.7 1790.2,655.2 1793.3,652.7 1794.8,622.7 1799.3,621.9 1800.8,664.1 1803.9,666.6 1807.0,664.1 1808.5,620.7 1812.2,616.6 1813.7,671.6 1816.8,674.1 1819.9,671.6 1821.4,614.6 1826.0,614.5 1827.5,671.6 1830.6,674.1 1833.7,671.6 1835.2,611.8 1838.9,616.0 1840.4,671.6 1843.5,674.1 1846.6,671.6 1848.1,616.6 1853.4,613.0 1854.9,658.0 1858.0,660.5 1861.1,658.0 1862.6,614.1 1865.6,616.4 1867.1,637.4 1870.2,639.9 1873.3,637.4 1874.8,615.2 1878.3,621.2 1879.8,636.6 1882.9,639.1 1886.0,636.6 1887.5,621.1 1889.7,616.2 1891.2,634.4 1894.3,636.9 1897.4,634.4 1898.9,616.0 1902.7,620.0 1904.2,631.3 1907.3,633.8 1910.4,631.3 1911.9,617.4 1914.9,622.8 1916.4,641.2 1919.5,643.7 1922.6,641.2 1924.1,619.9 1929.4,620.5 1930.9,654.9 1934.0,657.4 1937.1,654.9 1938.6,622.6 1941.6,613.2 1943.1,663.3 1946.2,665.8 1949.3,663.3 1950.8,614.9 1955.3,616.7 1956.8,648.8 1959.9,651.3 1963.0,648.8 1964.5,617.1 1965.2,613.1 1966.7,637.4 1969.8,639.9 1972.9,637.4 1974.4,610.4 1982.8,614.8 1984.3,632.8 1987.4,635.3 1990.5,632.8 1992.0,617.5 1996.5,615.0 1998.0,654.9 2001.1,657.4 2004.2,654.9 2005.7,616.5 2011.0,622.3 2012.5,633.6 2015.6,636.1 2018.7,633.6 2020.2,624.9 2020.1,616.4 2021.6,641.2 2024.7,643.7 2027.8,641.2 2029.3,615.6 2032.3,618.2 2033.8,630.5 2036.9,633.0 2040.0,630.5 2041.5,619.9 2044.5,614.1 2046.0,637.4 2049.1,639.9 2052.2,637.4 2053.7,615.6 2058.3,621.0 2059.8,658.0 2062.9,660.5 2066.0,658.0 2067.5,623.1 2072.0,613.4 2073.5,649.6 2076.6,652.1 2079.7,649.6 2081.2,616.0 2085.0,613.9 2086.5,651.9 2089.6,654.4 2092.7,651.9 2094.2,613.0 2097.2,619.1 2098.7,651.9 2101.8,654.4 2104.9,651.9 2106.4,621.6 2109.4,616.4 2110.9,651.9 2114.0,654.4 2117.1,651.9 2118.6,618.9 2123.9,618.5 2125.4,643.5 2128.5,646.0 2131.6,643.5 2133.1,617.3 2134.5,616.2 2136.0,640.5 2139.1,643.0 2142.2,640.5 2143.7,614.2 2146.7,613.8 2148.2,640.5 2151.3,643.0 2154.4,640.5 2155.9,611.7 2160.5,619.9 2162.0,651.9 2165.1,654.4 2168.2,651.9 2169.7,622.9 2171.9,614.6 2173.4,638.2 2176.5,640.7 2179.6,638.2 2181.1,611.9 2177.8,600.0" fill="#0000ff" stroke="#0000ff" stroke-width="1.6" stroke-linejoin="round"/>
<polygon points="1563.0,429.6 1564.6,426.1 1565.6,424.6 1567.9,424.6 1568.9,426.1 1570.5,440.2 1570.5,440.2 1572.0,436.7 1572.6,435.2 1573.0,435.2 1573.6,436.7 1575.1,440.2 1575.1,440.2 1576.7,430.6 1577.7,429.1 1580.1,429.1 1581.1,430.6 1582.7,434.1 1582.7,434.1 1584.3,412.3 1585.3,410.8 1589.3,410.8 1590.3,412.3 1591.9,415.8 1591.9,415.8 1593.5,406.2 1594.5,404.7 1596.9,404.7 1597.9,406.2 1599.5,418.6 1599.5,418.6 1601.1,415.1 1602.1,413.6 1604.5,413.6 1605.5,415.1 1607.1,420.4 1607.1,420.4 1608.6,416.9 1609.2,415.4 1609.6,415.4 1610.2,416.9 1611.7,421.9 1611.7,421.9 1613.3,418.4 1614.3,416.9 1615.2,416.9 1616.2,418.4 1617.8,421.9 1617.8,421.9 1619.4,416.2 1620.4,414.7 1622.8,414.7 1623.8,416.2 1625.4,419.7 1625.4,419.7 1627.0,412.3 1628.0,410.8 1628.9,410.8 1629.9,412.3 1631.5,421.2 1631.5,421.2 1633.1,417.7 1634.1,416.2 1636.5,416.2 1637.5,417.7 1639.1,421.2 1639.1,421.2 1640.7,403.2 1641.7,401.7 1644.2,401.7 1645.2,403.2 1646.8,425.0 1646.8,425.0 1648.3,421.5 1648.9,420.0 1649.3,420.0 1649.8,421.5 1651.3,426.5 1651.3,426.5 1652.9,423.0 1653.9,421.5 1656.4,421.5 1657.4,423.0 1659.0,426.5 1659.0,426.5 1660.6,413.1 1661.6,411.6 1664.0,411.6 1665.0,413.1 1666.6,436.4 1666.6,436.4 1668.2,432.9 1669.2,431.4 1671.6,431.4 1672.6,432.9 1674.2,436.4 1674.2,436.4 1675.8,416.9 1676.8,415.4 1677.7,415.4 1678.7,416.9 1680.3,420.4 1680.3,420.4 1681.9,413.9 1682.9,412.4 1684.6,412.4 1685.6,413.9 1687.2,444.8 1687.2,444.8 1688.8,441.3 1689.8,439.8 1691.5,439.8 1692.5,441.3 1694.1,444.8 1694.1,444.8 1695.7,424.5 1696.7,423.0 1699.1,423.0 1700.1,424.5 1701.7,428.0 1701.7,428.0 1703.3,421.5 1704.3,420.0 1705.2,420.0 1706.2,421.5 1707.8,434.9 1707.8,434.9 1709.4,431.4 1710.4,429.9 1712.8,429.9 1713.8,431.4 1715.4,434.9 1715.4,434.9 1717.0,419.2 1718.0,417.7 1718.9,417.7 1719.9,419.2 1721.5,422.7 1721.5,422.7 1723.1,406.2 1724.1,404.7 1726.5,404.7 1727.5,406.2 1729.1,454.0 1729.1,454.0 1730.7,450.5 1731.7,449.0 1732.6,449.0 1733.6,450.5 1735.2,454.0 1735.2,454.0 1736.8,413.9 1737.8,412.4 1740.3,412.4 1741.3,413.9 1742.9,435.7 1742.9,435.7 1744.5,432.2 1745.5,430.7 1746.4,430.7 1747.4,432.2 1749.0,435.7 1749.0,435.7 1750.6,429.9 1751.6,428.4 1754.0,428.4 1755.0,429.9 1756.6,440.2 1756.6,440.2 1758.2,436.7 1759.2,435.2 1760.1,435.2 1761.1,436.7 1762.7,440.2 1762.7,440.2 1764.3,397.1 1765.3,395.6 1766.2,395.6 1767.2,397.1 1768.8,438.7 1768.8,438.7 1770.4,435.2 1771.4,433.7 1773.8,433.7 1774.8,435.2 1776.4,438.7 1776.4,438.7 1778.0,425.3 1779.0,423.8 1786.0,423.8 1787.0,425.3 1788.6,428.8 1788.6,428.8 1790.2,414.6 1791.2,413.1 1793.7,413.1 1794.7,414.6 1796.3,418.1 1796.3,418.1 1797.9,407.0 1798.9,405.5 1801.3,405.5 1802.3,407.0 1803.9,422.7 1803.9,422.7 1805.5,419.2 1806.5,417.7 1807.4,417.7 1808.4,419.2 1810.0,422.7 1810.0,422.7 1811.6,404.0 1812.6,402.5 1815.0,402.5 1816.0,404.0 1817.6,420.4 1817.6,420.4 1819.2,416.9 1820.2,415.4 1821.1,415.4 1822.1,416.9 1823.7,420.4 1823.7,420.4 1825.3,401.7 1826.3,400.2 1830.3,400.2 1831.3,401.7 1832.9,420.4 1832.9,420.4 1834.5,416.9 1835.5,415.4 1842.5,415.4 1843.5,416.9 1845.1,420.4 1845.1,420.4 1846.7,404.7 1847.7,403.2 1850.1,403.2 1851.1,404.7 1852.7,426.5 1852.7,426.5 1854.3,423.0 1855.3,421.5 1875.7,421.5 1876.7,423.0 1878.3,426.5 1878.3,426.5 1879.9,416.2 1880.9,414.7 1887.9,414.7 1888.9,416.2 1890.5,447.9 1890.5,447.9 1892.1,444.4 1893.1,442.9 1896.3,442.9 1897.3,444.4 1898.9,447.9 1898.9,447.9 1900.5,425.3 1901.5,423.8 1909.3,423.8 1910.3,425.3 1911.9,428.8 1911.9,428.8 1913.5,398.6 1914.5,397.1 1916.9,397.1 1917.9,398.6 1919.5,443.3 1919.5,443.3 1920.5,439.8 1920.9,438.3 1921.2,438.3 1921.5,439.8 1922.5,443.3 1922.5,443.3 1924.1,420.7 1925.1,419.2 1929.1,419.2 1930.1,420.7 1931.7,432.6 1931.7,432.6 1933.2,429.1 1933.8,427.6 1934.2,427.6 1934.7,429.1 1936.3,432.6 1936.3,432.6 1937.5,423.0 1938.0,421.5 1938.3,421.5 1938.8,423.0 1940.1,426.5 1940.1,426.5 1941.7,410.8 1942.7,409.3 1948.9,409.3 1949.9,410.8 1951.5,438.7 1951.5,438.7 1953.1,435.2 1954.1,433.7 1955.0,433.7 1956.0,435.2 1957.6,440.2 1957.6,440.2 1958.6,436.7 1959.0,435.2 1959.3,435.2 1959.7,436.7 1960.7,440.2 1960.7,440.2 1962.3,418.7 1963.3,417.2 1971.8,417.2 1972.8,418.7 1974.4,447.1 1974.4,447.1 1976.0,443.6 1977.0,442.1 1977.9,442.1 1978.9,443.6 1980.5,447.1 1980.5,447.1 1982.1,422.3 1983.1,420.8 1986.3,420.8 1987.3,422.3 1988.9,435.7 1988.9,435.7 1990.5,432.2 1991.3,430.7 1991.8,430.7 1992.6,432.2 1994.2,435.7 1994.2,435.7 1995.8,401.7 1996.8,400.2 1999.3,400.2 2000.3,401.7 2001.9,411.3 2001.9,411.3 2003.5,407.8 2004.5,406.3 2010.7,406.3 2011.7,407.8 2013.3,411.3 2013.3,411.3 2014.9,407.0 2015.9,405.5 2019.8,405.5 2020.8,407.0 2022.4,432.6 2022.4,432.6 2024.0,429.1 2024.9,427.6 2025.4,427.6 2026.2,429.1 2027.8,432.6 2027.8,432.6 2029.4,408.5 2030.4,407.0 2033.6,407.0 2034.6,408.5 2036.2,438.7 2036.2,438.7 2037.8,435.2 2038.8,433.7 2039.7,433.7 2040.7,435.2 2042.3,438.7 2042.3,438.7 2043.9,410.8 2044.9,409.3 2047.3,409.3 2048.3,410.8 2049.9,420.4 2049.9,420.4 2051.5,416.9 2052.5,415.4 2054.2,415.4 2055.2,416.9 2056.8,447.9 2056.8,447.9 2058.4,444.4 2059.4,442.9 2060.3,442.9 2061.3,444.4 2062.9,447.9 2062.9,447.9 2064.5,426.1 2065.5,424.6 2073.2,424.6 2074.2,426.1 2075.8,429.6 2075.8,429.6 2077.4,400.9 2078.4,399.4 2080.9,399.4 2081.9,400.9 2083.5,444.1 2083.5,444.1 2085.1,440.6 2085.9,439.1 2086.4,439.1 2087.2,440.6 2088.8,444.1 2088.8,444.1 2090.4,404.7 2091.4,403.2 2095.3,403.2 2096.3,404.7 2097.9,435.7 2097.9,435.7 2099.5,432.2 2100.5,430.7 2101.5,430.7 2102.5,432.2 2104.1,438.7 2104.1,438.7 2105.7,435.2 2106.7,433.7 2109.8,433.7 2110.8,435.2 2112.4,438.7 2112.4,438.7 2114.0,435.2 2114.5,433.7 2114.9,433.7 2115.5,435.2 2117.0,438.7 2117.0,438.7 2118.6,410.8 2119.6,409.3 2122.0,409.3 2123.0,410.8 2124.6,421.9 2124.6,421.9 2126.2,418.4 2127.2,416.9 2128.1,416.9 2129.1,418.4 2130.7,421.9 2130.7,421.9 2132.3,408.5 2133.3,407.0 2134.2,407.0 2135.2,408.5 2136.8,428.0 2136.8,428.0 2138.4,424.5 2139.4,423.0 2143.4,423.0 2144.4,424.5 2146.0,428.0 2146.0,428.0 2147.6,416.2 2148.4,414.7 2148.9,414.7 2149.7,416.2 2151.3,419.7 2151.3,419.7 2152.9,413.9 2153.9,412.4 2156.4,412.4 2157.4,413.9 2159.0,439.5 2159.0,439.5 2160.6,436.0 2161.6,434.5 2163.2,434.5 2164.2,436.0 2165.8,439.5 2165.8,439.5 2167.4,419.7 2168.4,418.2 2176.7,418.2 2177.7,419.7 2179.3,423.2 2179.3,605.0 2179.3,585.8 2172.7,585.8 2166.6,626.9 2163.5,626.9 2149.8,601.0 2146.8,601.0 2140.7,613.2 2136.1,613.2 2125.4,605.6 2119.3,605.6 2113.2,622.4 2110.2,622.4 2104.1,613.2 2091.8,601.0 2085.7,616.3 2082.7,616.3 2072.0,626.9 2067.4,626.9 2058.3,622.4 2053.7,622.4 2043.0,626.9 2040.0,626.9 2032.4,619.3 2027.8,619.3 2018.6,605.6 2012.5,605.6 2003.4,605.6 1997.3,605.6 1991.2,628.5 1986.6,628.5 1979.0,625.4 1972.9,625.4 1963.7,619.3 1957.6,619.3 1948.5,608.6 1945.4,608.6 1936.3,601.0 1928.6,601.0 1924.1,613.2 1918.0,613.2 1908.8,622.4 1902.7,623.9 1896.6,631.5 1890.5,631.5 1880.0,623.9 1875.6,622.4 1867.9,608.6 1861.8,611.7 1852.7,616.3 1846.6,611.7 1837.4,613.2 1832.9,607.1 1823.7,605.6 1819.1,623.9 1811.5,620.8 1805.4,611.7 1796.3,613.2 1791.7,611.7 1784.1,611.7 1777.9,619.3 1771.8,616.3 1764.2,614.7 1759.6,630.0 1753.5,633.0 1747.4,628.5 1741.3,630.0 1738.3,614.7 1733.7,601.0 1732.2,626.9 1726.1,631.5 1716.9,623.9 1709.3,619.3 1704.7,622.4 1698.6,625.4 1692.5,625.4 1686.4,630.0 1680.3,619.3 1677.3,622.4 1669.7,623.9 1665.1,604.1 1660.5,610.2 1652.9,601.0 1649.8,611.7 1640.7,608.6 1637.6,623.9 1630.0,623.9 1626.9,601.0 1617.8,601.0 1613.2,614.7 1607.1,611.7 1601.0,598.0 1596.4,602.5 1590.3,601.0 1585.8,614.7 1578.1,613.2 1575.1,626.9 1569.0,625.4 1566.7,590.3 1561.4,590.3 1562.0,590.0" fill="#00ff00" stroke="#00ff00" stroke-width="1.2" stroke-linejoin="round"/>
<path d="M1564.4 588.8L1564.4 607.1 M1569.0 625.4L1570.5 637.6 M1578.1 593.4L1583.5 633.5 M1591.1 587.3L1596.4 626.9 M1604.1 596.4L1607.9 621.2 M1619.3 601.0L1621.6 630.8 M1625.4 599.5L1623.1 615.5 M1633.8 623.9L1633.8 630.8 M1639.1 582.7L1646.8 617.4 M1653.6 598.0L1659.7 623.5 M1666.6 584.2L1671.2 604.8 M1680.3 576.6L1682.6 605.6 M1694.1 588.8L1700.2 613.2 M1707.0 577.4L1715.4 616.3 M1722.3 577.4L1723.8 606.0 M1735.2 593.4L1736.0 604.1 M1749.0 596.4L1749.7 618.6 M1761.9 586.5L1761.9 615.1 M1768.8 614.7L1774.9 631.9 M1782.5 591.9L1790.2 623.5 M1796.3 582.7L1803.9 624.7 M1810.0 584.2L1816.8 628.9 M1825.2 596.4L1830.6 635.0 M1843.5 590.3L1843.5 632.0 M1858.0 599.5L1858.0 630.0 M1870.2 585.8L1870.2 612.8 M1883.6 578.1L1882.9 608.6 M1898.1 591.9L1894.3 614.4 M1911.9 579.7L1907.3 606.7 M1920.3 613.2L1919.5 628.5 M1933.2 601.0L1934.0 629.2 M1942.4 601.0L1946.2 633.4 M1953.0 588.8L1959.9 620.1 M1966.0 580.4L1969.8 610.2 M1981.3 591.9L1987.4 613.6 M1994.2 583.5L2001.1 620.5 M2008.7 595.7L2015.6 615.9 M2020.2 593.4L2024.7 618.6 M2035.4 583.5L2036.9 608.3 M2048.4 578.1L2049.1 609.0 M2062.9 592.6L2062.9 626.6 M2076.6 580.4L2076.6 616.3 M2089.6 599.5L2089.6 626.9 M2101.8 601.0L2101.8 627.7 M2114.7 598.0L2114.0 626.2 M2130.0 598.0L2128.5 622.0 M2139.1 604.1L2139.1 623.5 M2145.2 601.0L2151.3 622.0 M2159.0 586.5L2165.1 620.5 M2171.2 581.2L2176.5 610.9" fill="none" stroke="#0000ff" stroke-width="3.6" stroke-linecap="round" stroke-linejoin="round"/>
<path d="M1564.4 603.0L1564.4 625.4 M1570.5 637.4L1570.5 649.8 M1583.5 605.4L1583.5 674.1 M1596.4 603.0L1596.4 666.6 M1607.9 608.4L1607.9 646.0 M1621.6 613.0L1621.6 660.5 M1623.1 611.5L1623.1 631.5 M1633.8 635.9L1633.8 637.6 M1646.8 603.0L1646.8 652.1 M1659.7 610.0L1659.7 649.1 M1671.2 603.0L1671.2 625.4 M1682.6 603.0L1682.6 634.6 M1700.2 603.0L1700.2 637.6 M1715.4 603.0L1715.4 655.2 M1723.8 603.0L1723.8 634.6 M1736.0 605.4L1736.0 614.7 M1749.7 608.4L1749.7 640.7 M1761.9 603.0L1761.9 643.7 M1774.9 626.7L1774.9 649.1 M1790.2 603.9L1790.2 655.2 M1803.9 603.0L1803.9 666.6 M1816.8 603.0L1816.8 674.1 M1830.6 608.4L1830.6 674.1 M1843.5 603.0L1843.5 674.1 M1858.0 611.5L1858.0 660.5 M1870.2 603.0L1870.2 639.9 M1882.9 603.0L1882.9 639.1 M1894.3 603.9L1894.3 636.9 M1907.3 603.0L1907.3 633.8 M1919.5 625.2L1919.5 643.7 M1934.0 613.0L1934.0 657.4 M1946.2 613.0L1946.2 665.8 M1959.9 603.0L1959.9 651.3 M1969.8 603.0L1969.8 639.9 M1987.4 603.9L1987.4 635.3 M2001.1 603.0L2001.1 657.4 M2015.6 607.7L2015.6 636.1 M2024.7 605.4L2024.7 643.7 M2036.9 603.0L2036.9 633.0 M2049.1 603.0L2049.1 639.9 M2062.9 604.6L2062.9 660.5 M2076.6 603.0L2076.6 652.1 M2089.6 611.5L2089.6 654.4 M2101.8 613.0L2101.8 654.4 M2114.0 610.0L2114.0 654.4 M2128.5 610.0L2128.5 646.0 M2139.1 616.1L2139.1 643.0 M2151.3 613.0L2151.3 643.0 M2165.1 603.0L2165.1 654.4 M2176.5 603.0L2176.5 640.7" fill="none" stroke="#0000ff" stroke-width="6.4" stroke-linecap="round"/>
<line x1="1564.0" y1="555.2" x2="2176.8" y2="555.2" stroke="#ff0000" stroke-width="9.6"/>
<text transform="translate(1451.72,420.48) scale(0.7167,1)" font-size="74.67" font-weight="bold" fill="#262626" stroke="#fff" stroke-width="0.6" paint-order="fill stroke">1.23</text>
<text transform="translate(1451.73,520.88) scale(0.7154,1)" font-size="74.67" font-weight="bold" fill="#262626" stroke="#fff" stroke-width="0.6" paint-order="fill stroke">1.22</text>
<text transform="translate(1451.76,621.28) scale(0.7093,1)" font-size="74.67" font-weight="bold" fill="#262626" stroke="#fff" stroke-width="0.6" paint-order="fill stroke">1.21</text>
<text transform="translate(1545.83,764.00) scale(0.6774,1)" font-size="75.88" font-weight="bold" fill="#262626" stroke="#fff" stroke-width="0.6" paint-order="fill stroke">4</text>
<text transform="translate(1835.20,763.17) scale(0.7104,1)" font-size="75.07" font-weight="bold" fill="#262626" stroke="#fff" stroke-width="0.6" paint-order="fill stroke">4.5</text>
<text transform="translate(2158.31,763.54) scale(0.7901,1)" font-size="75.64" font-weight="bold" fill="#262626" stroke="#fff" stroke-width="0.6" paint-order="fill stroke">5</text>
</g>
<g id="ticklabels">
<text transform="translate(306.10,98.18) scale(0.7242,1)" font-size="91.49" font-weight="bold" fill="#262626" stroke="#262626" stroke-width="0.5" stroke-linejoin="round">1.5</text>
<text transform="translate(352.69,349.15) scale(0.7511,1)" font-size="91.76" font-weight="bold" fill="#262626" stroke="#262626" stroke-width="0.5" stroke-linejoin="round">1</text>
<text transform="translate(308.84,599.20) scale(0.7090,1)" font-size="90.15" font-weight="bold" fill="#262626" stroke="#262626" stroke-width="0.5" stroke-linejoin="round">0.5</text>
<text transform="translate(354.76,850.06) scale(0.7969,1)" font-size="89.04" font-weight="bold" fill="#262626" stroke="#262626" stroke-width="0.5" stroke-linejoin="round">0</text>
<text transform="translate(393.30,926.33) scale(0.7105,1)" font-size="87.26" font-weight="bold" fill="#262626" stroke="#262626" stroke-width="1.2" stroke-linejoin="round">0</text>
<text transform="translate(746.45,927.20) scale(0.7826,1)" font-size="89.92" font-weight="bold" fill="#262626" stroke="#262626" stroke-width="1.2" stroke-linejoin="round">1</text>
<text transform="translate(1105.98,926.60) scale(0.7689,1)" font-size="87.88" font-weight="bold" fill="#262626" stroke="#262626" stroke-width="1.2" stroke-linejoin="round">2</text>
<text transform="translate(1465.25,926.33) scale(0.6952,1)" font-size="87.46" font-weight="bold" fill="#262626" stroke="#262626" stroke-width="1.2" stroke-linejoin="round">3</text>
<text transform="translate(1825.16,927.20) scale(0.6825,1)" font-size="89.92" font-weight="bold" fill="#262626" stroke="#262626" stroke-width="1.2" stroke-linejoin="round">4</text>
<text transform="translate(2181.78,926.31) scale(0.7608,1)" font-size="88.57" font-weight="bold" fill="#262626" stroke="#262626" stroke-width="1.2" stroke-linejoin="round">5</text>
</g>
<g id="labels">
<text transform="translate(0,1012.60) scale(0.7260,1)" x="1588.4 1660.9 1688.6 1783.9 1844.2 1869.0 1908.8 1955.7" y="0" font-size="120.50" font-weight="bold" fill="#262626">Time (s)</text>
<text transform="translate(86.40,0) rotate(-90) scale(1.1700,0.8850)" x="-601.9 -528.2 -477.0 -444.0 -389.9 -339.9 -326.7 -293.9 -263.7 -209.3" y="0" font-size="100.00" font-weight="bold" fill="#262626">Rotor flux</text>
<text transform="translate(284.70,0) rotate(-90) scale(1.1600,0.8560)" x="-467.8 -434.8 -365.1 -326.3" y="0" font-size="100.00" font-weight="bold" fill="#262626">(Vs)</text>
</g>
</svg>
</body>
</html>
